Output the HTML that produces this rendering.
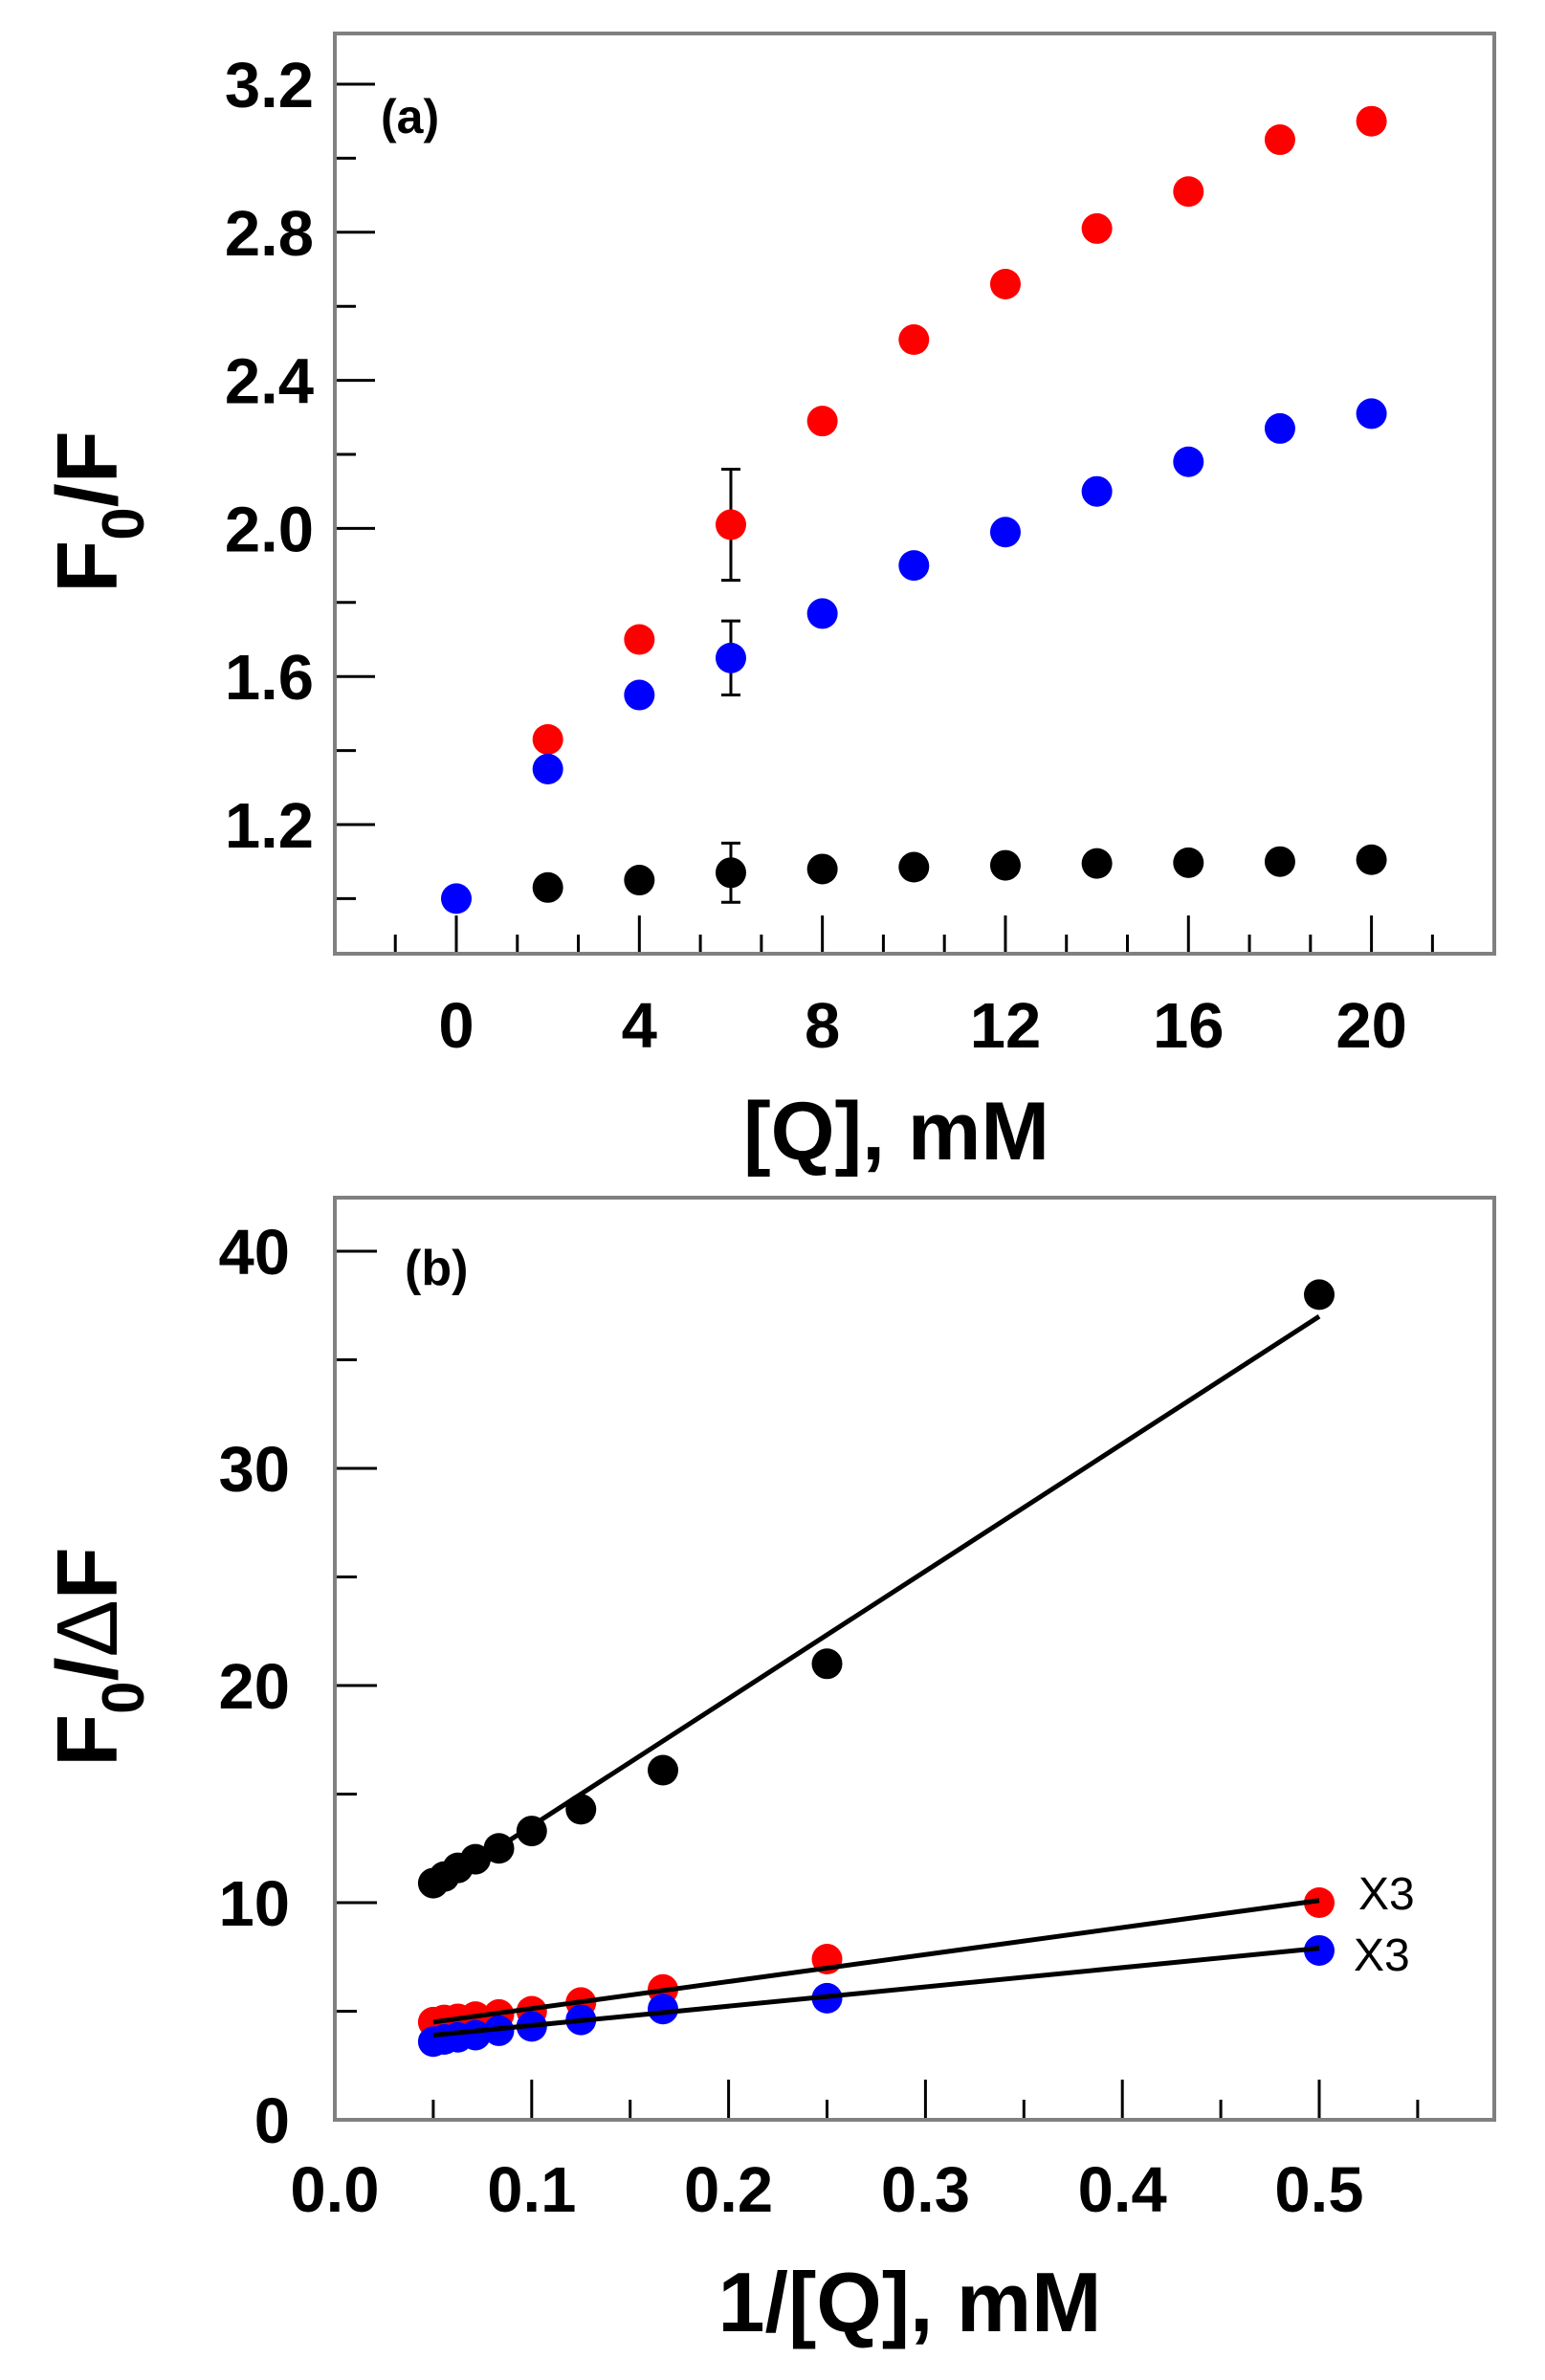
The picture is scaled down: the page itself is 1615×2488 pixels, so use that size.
<!DOCTYPE html>
<html><head><meta charset="utf-8"><style>
html,body{margin:0;padding:0;background:#fff;}
svg{display:block;}
text{font-family:"Liberation Sans",Arial,sans-serif;}
</style></head><body>
<svg id="s" xmlns="http://www.w3.org/2000/svg" width="1615" height="2488" viewBox="0 0 1615 2488"></svg>
<script>
const s=document.getElementById('s');let h='';
function L(x1,y1,x2,y2,c,w){h+=`<line x1="${x1}" y1="${y1}" x2="${x2}" y2="${y2}" stroke="${c}" stroke-width="${w}"/>`;}
function C(x,y,c){h+=`<circle cx="${x}" cy="${y}" r="16" fill="${c}"/>`;}
function T(x,y,t,sz,anc,wt,extra){h+=`<text x="${x}" y="${y}" font-size="${sz}" text-anchor="${anc}" font-weight="${wt}" ${extra||''}>${t}</text>`;}
const ax=v=>477+v*47.83, ay=v=>862-(v-1.2)*387;
const aB=997;
for(let k=-1;k<=16;k++){const v=k*4/3;const x=ax(v);if(x<352||x>1560)continue;const maj=(k%3==0);L(x,aB,x,aB-(maj?40:20),'#000',3);}
for(let v=1.0;v<=3.21;v+=0.2){const y=ay(v);const maj=Math.round(v*10)%4==0;L(352,y,352+(maj?40:20),y,'#000',3);}
h+=`<rect x="350" y="35" width="1212" height="962" fill="none" stroke="#808080" stroke-width="4"/>`;
[1.2,1.6,2.0,2.4,2.8,3.2].forEach(v=>T(328,ay(v)+24,v.toFixed(1),67,'end','bold'));
[0,4,8,12,16,20].forEach(v=>T(ax(v),1095,v,67,'middle','bold'));
T(937,1212,'[Q], mM',86,'middle','bold');
h+=`<text transform="translate(122,535) rotate(-90)" font-size="90" font-weight="bold" text-anchor="middle">F<tspan font-size="62" dy="28">0</tspan><tspan dy="-28">/F</tspan></text>`;
T(398,139,'(a)',50,'start','bold');
[[1.86,2.16],[1.55,1.75],[0.99,1.15]].forEach(e=>{const x=ax(6);L(x,ay(e[0]),x,ay(e[1]),'#000',3);L(x-10,ay(e[0]),x+10,ay(e[0]),'#000',3);L(x-10,ay(e[1]),x+10,ay(e[1]),'#000',3);});
const red=[1.43,1.70,2.01,2.29,2.51,2.66,2.81,2.91,3.05,3.10];
const blue=[1.0,1.35,1.55,1.65,1.77,1.90,1.99,2.10,2.18,2.27,2.31];
const blk=[1.03,1.05,1.07,1.08,1.085,1.09,1.095,1.097,1.10,1.105];
blk.forEach((v,i)=>C(ax(2*i+2),ay(v),'#000'));
red.forEach((v,i)=>C(ax(2*i+2),ay(v),'#f00'));
blue.forEach((v,i)=>C(ax(2*i),ay(v),'#00f'));
const bx=v=>350+v*2058, by=v=>2216-v*22.7;
const bB=2216;
for(let k=1;k<=11;k++){const v=k*0.05;const x=bx(v);L(x,bB,x,bB-(k%2==0?42:21),'#000',3);}
for(let k=1;k<=8;k++){const y=by(k*5);L(352,y,352+(k%2==0?42:21),y,'#000',3);}
h+=`<rect x="350" y="1252" width="1212" height="964" fill="none" stroke="#808080" stroke-width="4"/>`;
[0,10,20,30,40].forEach(v=>T(303,by(v)+24,v,67,'end','bold'));
[0,0.1,0.2,0.3,0.4,0.5].forEach(v=>T(bx(v),2312,v.toFixed(1),67,'middle','bold'));
T(951,2437,'1/[Q], mM',88,'middle','bold');
h+=`<text transform="translate(122,1732) rotate(-90)" font-size="90" font-weight="bold" text-anchor="middle">F<tspan font-size="62" dy="28">0</tspan><tspan dy="-28">/</tspan><tspan font-weight="normal">Δ</tspan>F</text>`;
T(423,1343,'(b)',52,'start','bold');
const xs=[0.05,1/18,0.0625,1/14,1/12,0.1,0.125,1/6,0.25,0.5];
const bk=[10.9,11.2,11.6,12.0,12.5,13.3,14.3,16.1,21.0,38.0];
const rd=[4.5,4.6,4.65,4.75,4.85,5.0,5.4,6.0,7.4,10.0];
const bl=[3.6,3.7,3.8,3.9,4.1,4.3,4.6,5.1,5.6,7.8];
L(bx(0.05),by(10.6),bx(0.5),by(37),'#000',5);
rd.forEach((v,i)=>C(bx(xs[i]),by(v),'#f00'));
bl.forEach((v,i)=>C(bx(xs[i]),by(v),'#00f'));
bk.forEach((v,i)=>C(bx(xs[i]),by(v),'#000'));
L(bx(0.05),by(4.5),bx(0.5),by(10.1),'#000',5);
L(bx(0.05),by(3.9),bx(0.5),by(7.9),'#000',5);
T(1420,1996,'X3',48,'start','normal');
T(1415,2060,'X3',48,'start','normal');
s.innerHTML=h;
</script>
</body></html>
